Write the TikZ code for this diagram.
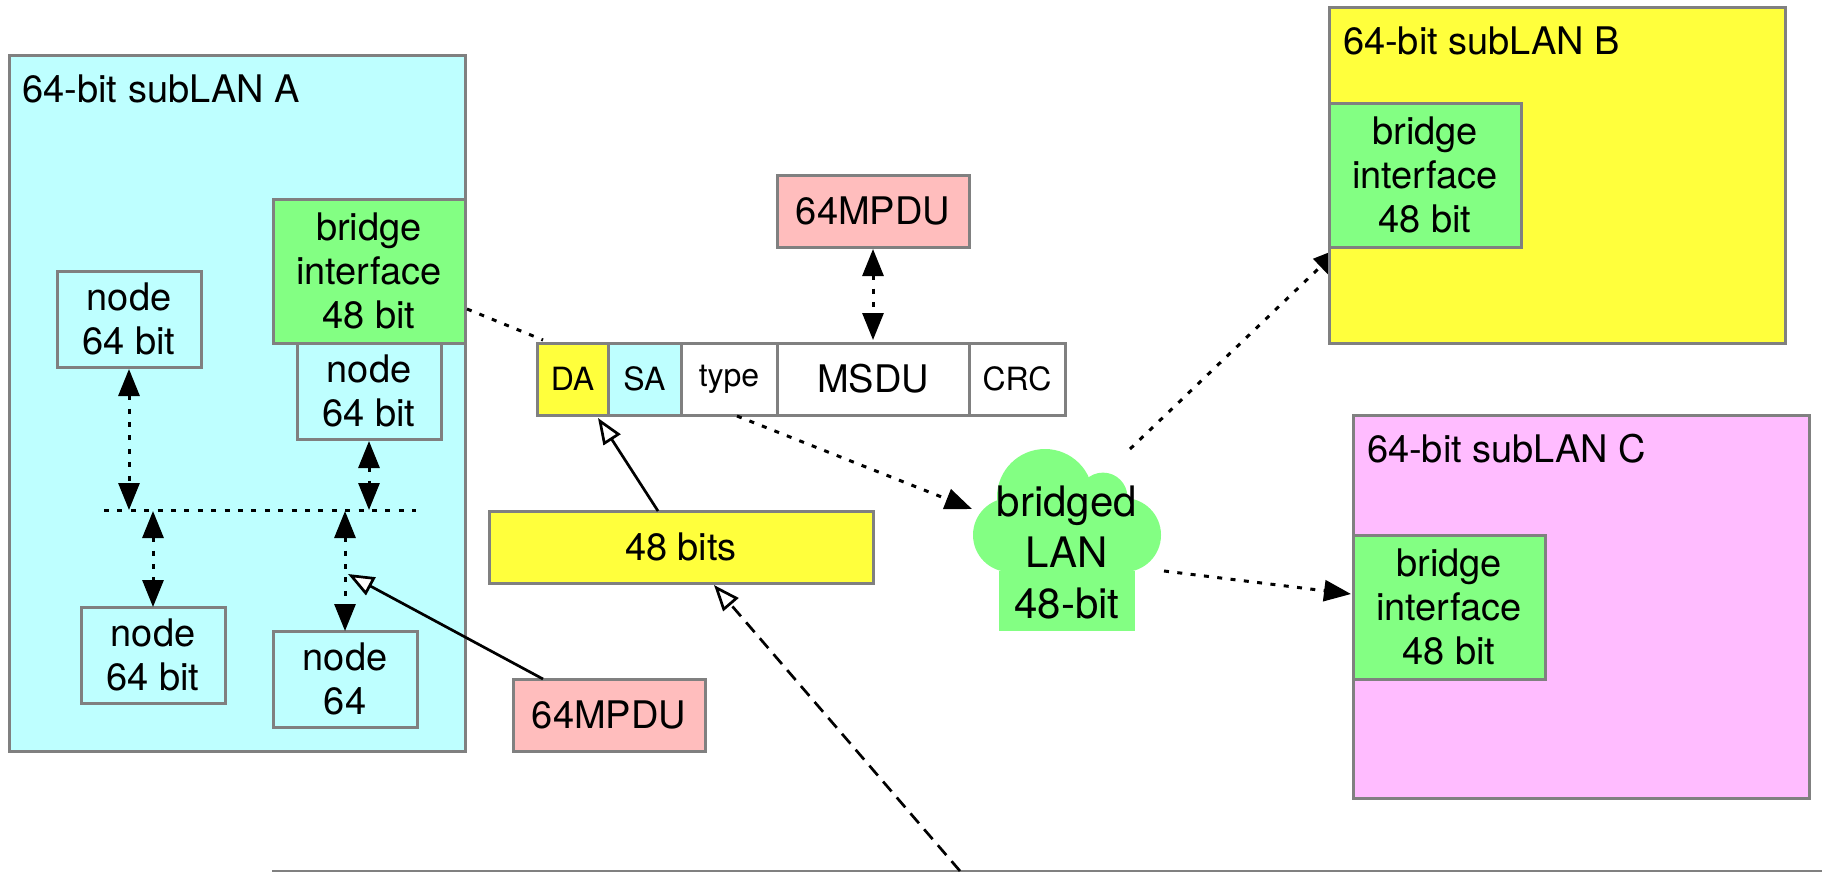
\documentclass[tikz,border=0pt]{standalone}
\usepackage{fontspec}
\setmainfont{TeX Gyre Heros}
\usetikzlibrary{arrows.meta,calc}
\definecolor{edge}{HTML}{808080}
\definecolor{cyanbg}{HTML}{BEFFFF}
\definecolor{yellowbg}{HTML}{FFFF3C}
\definecolor{greenbg}{HTML}{83FF83}
\definecolor{pinkbg}{HTML}{FFBDBD}
\definecolor{magentabg}{HTML}{FFBCFF}
\tikzset{
  x=1pt,y=-1pt,
  boxstyle/.style={draw=edge,line width=3pt,inner sep=0pt,outer sep=0pt,align=center,
    font=\fontsize{38}{44}\selectfont},
  panel/.style={boxstyle,minimum width=456pt,anchor=north west},
  lanlabel/.style={anchor=base west,inner sep=0pt,outer sep=0pt,font=\fontsize{38}{44}\selectfont},
  hostbox/.style={boxstyle,fill=cyanbg,minimum width=144pt,minimum height=96pt},
  bridgebox/.style={boxstyle,fill=greenbg,minimum width=192pt,minimum height=144pt},
  mpdubox/.style={boxstyle,fill=pinkbg,minimum width=192pt,minimum height=72pt},
  fieldbox/.style={boxstyle,minimum height=72pt,fill=white},
  smallfield/.style={fieldbox,font=\fontsize{32}{36}\selectfont},
  dotline/.style={black,line width=3pt,dash pattern=on 5pt off 8.4pt},
  twoway/.style={dotline,{Triangle[length=27pt,width=21pt]}-{Triangle[length=27pt,width=21pt]},shorten <=2pt,shorten >=2pt},
  oneway/.style={dotline,-{Triangle[length=27pt,width=21pt]}},
  hollow/.style={black,line width=2.7pt,-{Triangle[open,length=26pt,width=20pt,fill=white]}},
  hollowdash/.style={hollow,dash pattern=on 13pt off 8pt},
}
\begin{document}
\begin{tikzpicture}
\useasboundingbox (0,0) rectangle (1822,871);
\fill[white] (0,0) rectangle (1822,871);

% cropped panel edge at the bottom
\coordinate (cropL) at (272,870.5);
\coordinate (cropR) at (1822,870.5);
\draw[edge,line width=2pt] (cropL) -- (cropR);

% connector that runs behind subLAN B
\coordinate (cloudB) at (1130,449);
\coordinate (tipB) at (1340,248);
\draw[oneway] (cloudB) -- (tipB);

% subLAN A
\node[panel,fill=cyanbg,minimum height=696pt] (lanA) at (9,55) {};
\node[lanlabel] (lanAlabel) at (22.5,102) {64-bit subLAN A};
\node[hostbox] (n1) at (129,319) {node\\64 bit};
\node[hostbox] (n2) at (369,391) {node\\64 bit};
\node[bridgebox] (brA) at (369,271) {bridge\\interface\\48 bit};
\node[hostbox] (n3) at (153,655) {node\\64 bit};
\node[hostbox] (n4) at (345,679) {node\\64};

\coordinate (busL) at (104,510);
\coordinate (busR) at (416,510);
\draw[dotline] (busL) -- (busR);
\draw[twoway,shorten >=0pt] (n1.south) -- (n1.south |- busL);
\draw[twoway,shorten >=0pt] (n2.south) -- (n2.south |- busL);
\draw[twoway,shorten <=1pt,shorten >=0pt] (n3.north |- busL) -- (n3.north);
\draw[twoway,shorten <=1pt,shorten >=0pt] (n4.north |- busL) -- (n4.north);

% subLAN B
\node[panel,fill=yellowbg,minimum height=336pt] (lanB) at (1329,7) {};
\node[lanlabel] (lanBlabel) at (1343,54) {64-bit subLAN B};
\node[bridgebox] (brB) at (1425,175) {bridge\\interface\\48 bit};

% subLAN C
\node[panel,fill=magentabg,minimum height=383pt] (lanC) at (1353,415) {};
\node[lanlabel] (lanClabel) at (1367,462) {64-bit subLAN C};
\node[bridgebox] (brC) at (1449,607) {bridge\\interface\\48 bit};

% frame
\node[smallfield,fill=yellowbg,minimum width=71pt,anchor=north west] (da) at (537,343) {DA};
\node[smallfield,fill=cyanbg,minimum width=73pt,anchor=north west] (sa) at (608,343) {SA};
\node[smallfield,minimum width=96pt,anchor=north west] (ty) at (681,343) {type};
\node[fieldbox,minimum width=192pt,anchor=north west] (msdu) at (777,343) {MSDU};
\node[smallfield,minimum width=96pt,anchor=north west] (crc) at (969,343) {CRC};

\node[mpdubox] (mpduT) at (873,211) {64MPDU};
\node[mpdubox] (mpduB) at (609,715) {64MPDU};
\node[boxstyle,fill=yellowbg,minimum width=384pt,minimum height=72pt] (bits) at (681,547) {48 bits};

% cloud
\fill[greenbg] (1045,497) circle[radius=48];
\fill[greenbg] (1103,497) circle[radius=24.4];
\fill[greenbg] (1010,535) circle[radius=37];
\fill[greenbg] (1124,535) circle[radius=37];
\fill[greenbg] (1010,497) rectangle (1124,572);
\fill[greenbg] (999,571) rectangle (1135,631);
\node[inner sep=0pt,outer sep=0pt,align=center,font=\fontsize{42}{51}\selectfont] (cloud) at (1067,552) {bridged\\LAN\\48-bit};

% connectors
\coordinate (brAout) at (467,309);
\coordinate (daIn) at (543,340);
\draw[dotline] (brAout) -- (daIn);
\draw[twoway,shorten <=2pt,shorten >=3pt] (mpduT.south) -- (msdu.north);
\coordinate (tyOut) at (737,416);
\coordinate (cloudIn) at (972,509);
\draw[oneway] (tyOut) -- (cloudIn);
\coordinate (cloudC) at (1164,571);
\coordinate (tipC) at (1351,594);
\draw[oneway] (cloudC) -- (tipC);
\coordinate (bitsOut) at (658,511);
\coordinate (daTip) at (598,418);
\draw[hollow] (bitsOut) -- (daTip);
\coordinate (mpduOut) at (543,679);
\coordinate (busTip) at (348,574);
\draw[hollow] (mpduOut) -- (busTip);
\coordinate (cropOut) at (960,871);
\coordinate (bitsTip) at (714,585);
\draw[hollowdash] (cropOut) -- (bitsTip);
\end{tikzpicture}
\end{document}
